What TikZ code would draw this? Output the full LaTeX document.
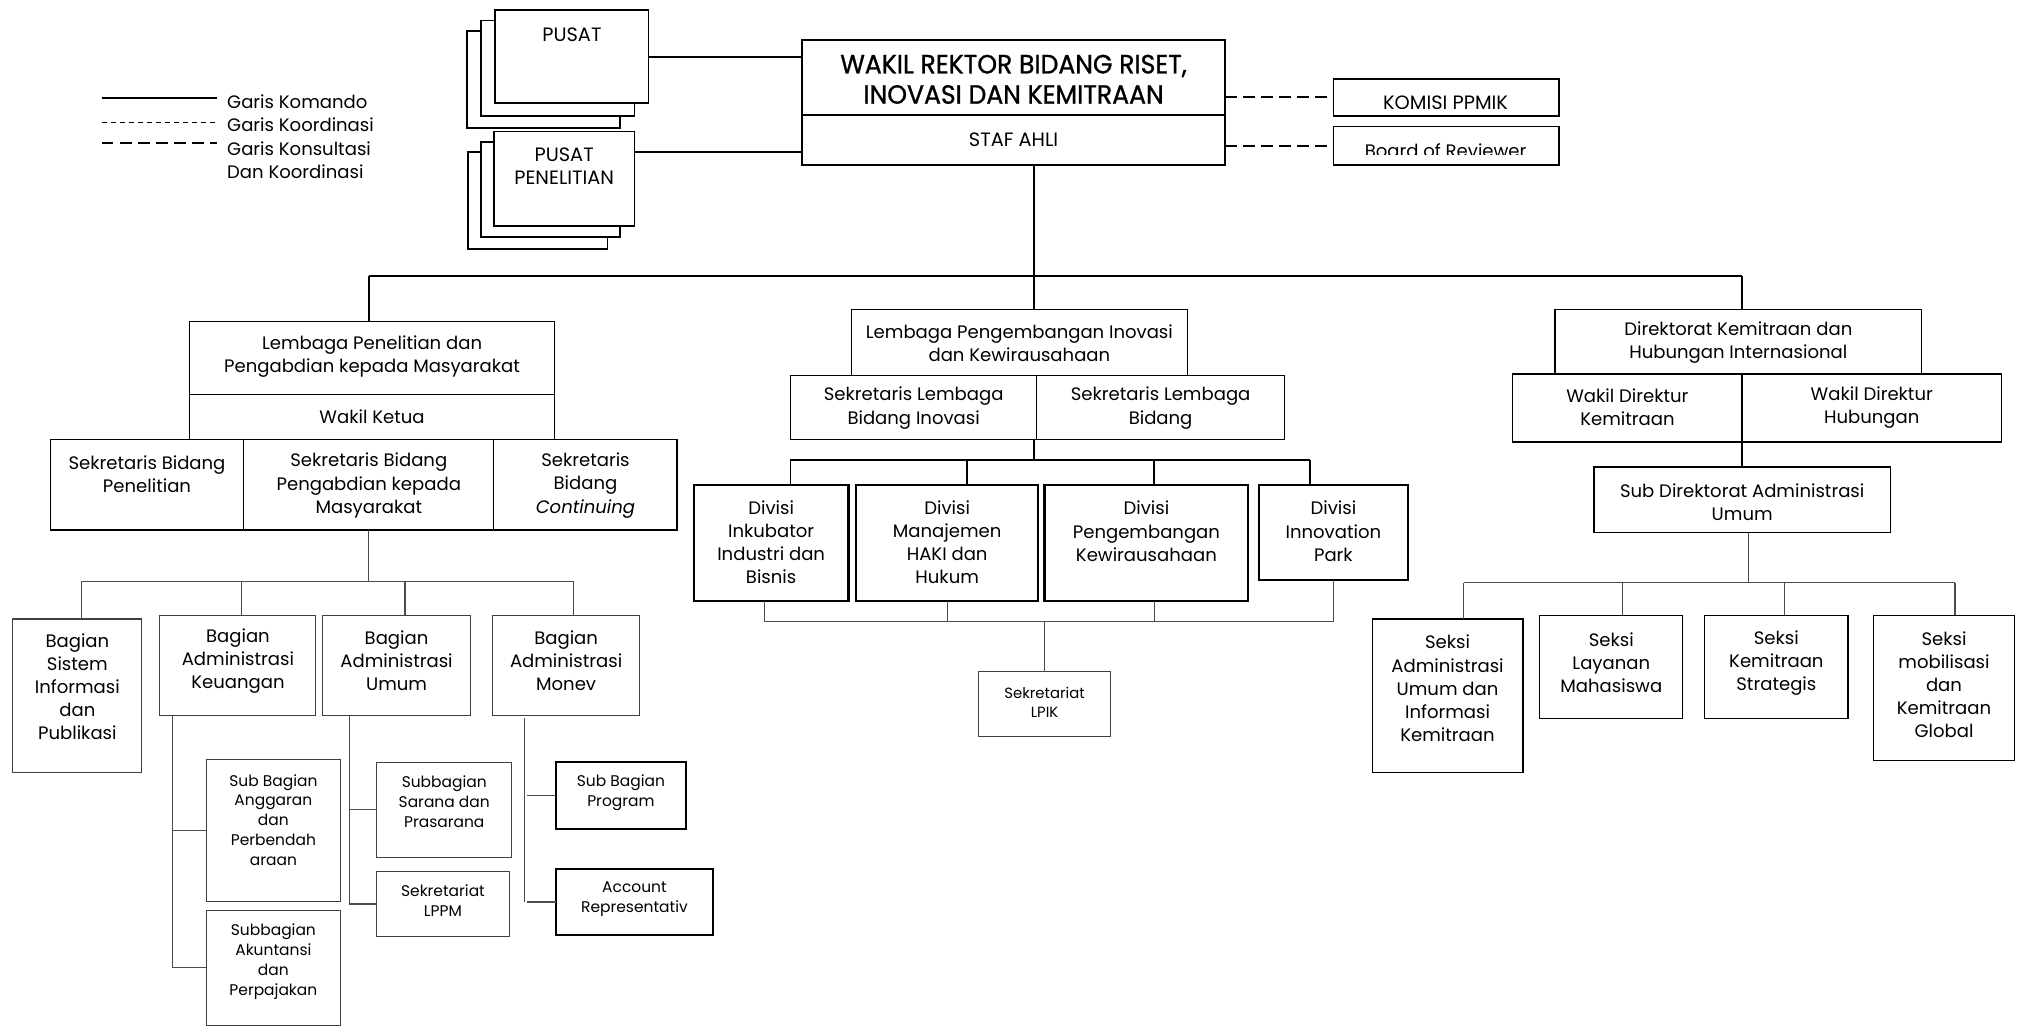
\documentclass[tikz,border=0pt]{standalone}
\usepackage{fontspec}
\setmainfont{Poppins}
\newfontfamily\wfont[FakeBold=1.0,FakeStretch=0.95]{Poppins}
\tikzset{
  bx/.style={draw, line width=0.9pt, fill=white, inner sep=0pt, outer sep=0pt},
  bxk/.style={bx, line width=1.7pt},
  bxm/.style={bx, line width=1.3pt},
  bxt/.style={bx, line width=0.8pt, draw=black!75},
  txt/.style={align=center, inner sep=0pt, font=\fontsize{14}{18}\selectfont},
  ctxt/.style={txt, font=\fontsize{15}{18}\selectfont},
  wtxt/.style={txt, font={\wfont\fontsize{20.5}{23.5}\selectfont}},
  stxt/.style={txt, font=\fontsize{12}{15.5}\selectfont},
  xstxt/.style={txt, font=\fontsize{11.5}{15}\selectfont},
  cn/.style={line width=1.4pt},
  cnt/.style={line width=0.9pt, draw=black!70},
  dashk/.style={line width=1.4pt, dash pattern=on 9pt off 5pt},
  dotk/.style={line width=1.5pt, dash pattern=on 4pt off 3pt},
}
% box only
\newcommand\rbox[6]{\node[#6, minimum width={(#4-#2)*1pt}, minimum height={(#5-#3)*1pt}] (#1) at ({(#2+#4)/2},{(#3+#5)/2}) {};}
% box with text (#7 text centre y, #8 text style, #9 text)
\newcommand\obox[9]{\rbox{#1}{#2}{#3}{#4}{#5}{#6}\node[#8] (#1-t) at ({(#2+#4)/2},#7) {#9};}
\begin{document}
\begin{tikzpicture}[x=1pt,y=-1pt]
\useasboundingbox (0,0) rectangle (1568,796);
\fill[white] (0,0) rectangle (1568,796);

% ---------------- legend
\coordinate (lg1a) at (79,76); \coordinate (lg1b) at (168,76);
\coordinate (lg2a) at (79,95); \coordinate (lg2b) at (168,95);
\coordinate (lg3a) at (79,111); \coordinate (lg3b) at (168,111);
\draw[line width=1.2pt] (lg1a) -- (lg1b);
\draw[dotk] (lg2a) -- (lg2b);
\draw[dashk] (lg3a) -- (lg3b);
\node[txt, anchor=west] (lgt1) at (176,79) {Garis Komando};
\node[txt, anchor=west] (lgt2) at (176,97) {Garis Koordinasi};
\node[txt, anchor=west] (lgt3) at (176,115) {Garis Konsultasi};
\node[txt, anchor=west] (lgt4) at (176,133) {Dan Koordinasi};

% ---------------- PUSAT stacks
\rbox{pus3}{362}{24}{481}{99}{bxm}
\rbox{pus2}{373}{16}{492}{90}{bxm}
\obox{pusat}{384}{8}{503}{80}{bxm}{27}{ctxt}{PUSAT}
\rbox{pp3}{363}{118}{471}{193}{bxm}
\rbox{pp2}{373}{110}{481}{184}{bxm}
\obox{pp}{383}{102}{492}{175}{bxm}{129}{ctxt}{PUSAT\\PENELITIAN}

% ---------------- top
\obox{wakil}{622}{31}{950}{89}{bxk}{61.5}{wtxt}{WAKIL REKTOR BIDANG RISET,\\INOVASI DAN KEMITRAAN}
\obox{staf}{622}{89}{950}{128}{bxk}{108}{ctxt}{STAF AHLI}
\rbox{komisi}{1034}{61}{1209}{90}{bxm}
\begin{scope}
\clip (1036,62) rectangle (1207,84);
\node[ctxt] (komisi-t) at (1121,79.8) {KOMISI PPMIK};
\end{scope}
\rbox{board}{1034}{98}{1209}{128}{bxm}
\begin{scope}
\clip (1036,99) rectangle (1207,119.5);
\node[txt] (board-t) at (1121,116.8) {Board of Reviewer};
\end{scope}

\draw[cn] (pusat.east) -- (pusat.east -| wakil.west);
\coordinate (ppc) at ([yshift=-16pt]pp.north east);
\draw[cn] (ppc) -- (ppc -| staf.west);
\draw[dashk] (komisi.west -| wakil.east) -- (komisi.west);
\draw[dashk] (board.west -| staf.east) -- (board.west);

% ---------------- main bus
\coordinate (b1) at (286,214);
\coordinate (b2) at (802,214);
\coordinate (b3) at (1351,214);

% ---------------- left branch
\obox{lp}{147}{249}{430}{306}{bx}{276.5}{txt}{Lembaga Penelitian dan\\Pengabdian kepada Masyarakat}
\obox{wk}{147}{306}{430}{341}{bx}{323}{txt}{Wakil Ketua}
\obox{sb1}{39}{341}{189}{411}{bx}{368}{txt}{Sekretaris Bidang\\Penelitian}
\obox{sb2}{189}{341}{383}{411}{bx}{376.5}{txt}{Sekretaris Bidang\\Pengabdian kepada\\Masyarakat}
\obox{sb3}{383}{341}{525}{411}{bx}{376.5}{txt}{Sekretaris\\Bidang\\\textit{Continuing}}

\obox{bs1}{10}{480}{110}{599}{bxt}{532.5}{txt}{Bagian\\Sistem\\Informasi\\dan\\Publikasi}
\obox{bk}{124}{477}{245}{555}{bxt}{512.5}{txt}{Bagian\\Administrasi\\Keuangan}
\obox{bu}{250}{477}{365}{555}{bxt}{512.5}{txt}{Bagian\\Administrasi\\Umum}
\obox{bm}{382}{477}{496}{555}{bxt}{512.5}{txt}{Bagian\\Administrasi\\Monev}

\obox{sa}{160}{589}{264}{699}{bxt}{636}{stxt}{Sub Bagian\\Anggaran\\dan\\Perbendah\\araan}
\obox{sak}{160}{706}{264}{795}{bxt}{745.5}{stxt}{Subbagian\\Akuntansi\\dan\\Perpajakan}
\obox{ss}{292}{591}{397}{665}{bxt}{622}{stxt}{Subbagian\\Sarana dan\\Prasarana}
\obox{sl}{292}{676}{395}{726}{bxt}{698.5}{stxt}{Sekretariat\\LPPM}
\obox{sp}{431}{591}{532}{643}{bxm}{615}{stxt}{Sub Bagian\\Program}
\obox{ar}{431}{674}{553}{725}{bxm}{697.5}{stxt}{Account\\Representativ}

% ---------------- middle branch
\obox{lpi}{660}{240}{921}{291}{bx}{266}{txt}{Lembaga Pengembangan Inovasi\\dan Kewirausahaan}
\obox{sl1}{613}{291}{804}{341}{bx}{316.5}{txt}{Sekretaris Lembaga\\Bidang Inovasi}
\obox{sl2}{804}{291}{996}{341}{bx}{316.5}{txt}{Sekretaris Lembaga\\Bidang}
\obox{d1}{538}{376}{658}{466}{bxk}{420.5}{txt}{Divisi\\Inkubator\\Industri dan\\Bisnis}
\obox{d2}{664}{376}{805}{466}{bxk}{420.5}{txt}{Divisi\\Manajemen\\HAKI dan\\Hukum}
\obox{d3}{810}{376}{968}{466}{bxk}{412}{txt}{Divisi\\Pengembangan\\Kewirausahaan}
\obox{d4}{976}{376}{1092}{450}{bxk}{412}{txt}{Divisi\\Innovation\\Park}
\obox{lpik}{759}{521}{861}{571}{bxt}{544.5}{xstxt}{Sekretariat\\LPIK}

% ---------------- right branch
\obox{dk}{1206}{240}{1490}{290}{bxm}{265.5}{txt}{Direktorat Kemitraan dan\\Hubungan Internasional}
\obox{wd1}{1173}{290}{1351}{343}{bxm}{316}{txt}{Wakil Direktur\\Kemitraan}
\obox{wd2}{1351}{290}{1552}{343}{bxm}{316}{txt}{Wakil Direktur\\Hubungan}
\obox{sd}{1236}{362}{1466}{413}{bxm}{389.5}{txt}{Sub Direktorat Administrasi\\Umum}
\obox{s1}{1064}{480}{1181}{599}{bx}{534}{txt}{Seksi\\Administrasi\\Umum dan\\Informasi\\Kemitraan}
\obox{s2}{1194}{477}{1305}{557}{bx}{514}{txt}{Seksi\\Layanan\\Mahasiswa}
\obox{s3}{1322}{477}{1433}{557}{bx}{514}{txt}{Seksi\\Kemitraan\\Strategis}
\obox{s4}{1453}{477}{1562}{590}{bx}{531}{txt}{Seksi\\mobilisasi\\dan\\Kemitraan\\Global}

% ---------------- top connectors
\draw[cn] (staf.south -| b2) -- (b2);
\draw[cn] (b1) -- (b3);
\draw[cn] (b1) -- (b1 |- lp.north);
\draw[cn] (b2) -- (b2 |- lpi.north);
\draw[cn] (b3) -- (b3 |- dk.north);

% left connectors
\coordinate (l0) at (286,451);
\coordinate (la) at (63,451);
\coordinate (lb) at (187,451);
\coordinate (lc) at (314,451);
\coordinate (ld) at (445,451);
\draw[cnt] (sb2.south) -- (l0);
\draw[cnt] (la) -- (ld);
\draw[cnt] (la) -- (la |- bs1.north);
\draw[cnt] (lb) -- (lb |- bk.north);
\draw[cnt] (lc) -- (lc |- bu.north);
\draw[cnt] (ld) -- (ld |- bm.north);

\coordinate (kt) at (134,555);
\draw[cnt] (kt) -- (sak.west -| kt) -- (sak.west);
\draw[cnt] (sa.west -| kt) -- (sa.west);
\coordinate (ut) at (271,555);
\draw[cnt] (ut) -- (sl.west -| ut) -- (sl.west);
\draw[cnt] (ss.west -| ut) -- (ss.west);
\coordinate (mt) at (407,557);
\draw[cnt] (mt) -- (ar.west -| mt);
\draw[cnt] ([xshift=2pt]ar.west -| mt) -- (ar.west);
\draw[cnt] ([xshift=2pt]sp.west -| mt) -- (sp.west);

% middle connectors
\coordinate (m0) at (802,357);
\coordinate (ma) at (613,357);
\coordinate (mb) at (750,357);
\coordinate (mc) at (895,357);
\coordinate (md) at (1016,357);
\draw[cn] (m0 |- sl1.south) -- (m0);
\draw[cn] (ma) -- (md);
\draw[cn] (ma) -- (ma |- d1.north);
\draw[cn] (mb) -- (mb |- d2.north);
\draw[cn] (mc) -- (mc |- d3.north);
\draw[cn] (md) -- (md |- d4.north);

\coordinate (na) at (593,482);
\coordinate (nb) at (735,482);
\coordinate (nc) at (895,482);
\coordinate (nd) at (1034,482);
\draw[cnt] (na) -- (nd);
\draw[cnt] (na |- d1.south) -- (na);
\draw[cnt] (nb |- d2.south) -- (nb);
\draw[cnt] (nc |- d3.south) -- (nc);
\draw[cnt] (nd |- d4.south) -- (nd);
\draw[cnt] (lpik.north |- na) -- (lpik.north);

% right connectors
\draw[cn] (wd1.south east) -- (wd1.south east |- sd.north);
\coordinate (r0) at (1356,452);
\coordinate (ra) at (1135,452);
\coordinate (rb) at (1258,452);
\coordinate (rc) at (1384,452);
\coordinate (rd) at (1516,452);
\draw[cnt] (r0 |- sd.south) -- (r0);
\draw[cnt] (ra) -- (rd);
\draw[cnt] (ra) -- (ra |- s1.north);
\draw[cnt] (rb) -- (rb |- s2.north);
\draw[cnt] (rc) -- (rc |- s3.north);
\draw[cnt] (rd) -- (rd |- s4.north);
\end{tikzpicture}
\end{document}
